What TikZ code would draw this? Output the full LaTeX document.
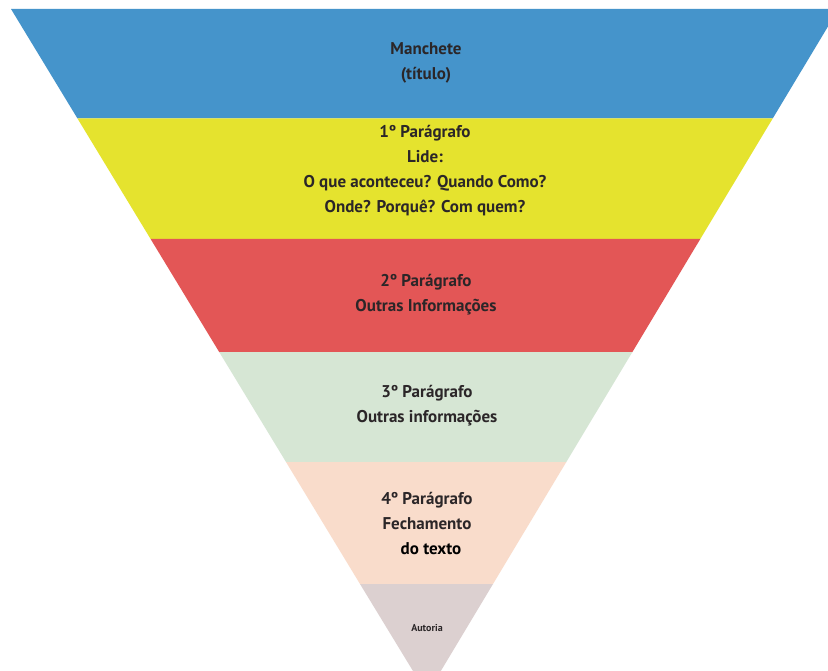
\documentclass[tikz,border=0pt]{standalone}
\usepackage{fontspec}
\setmainfont{PT Sans}
\definecolor{cblue}{HTML}{4594CB}
\definecolor{cyellow}{HTML}{E5E32E}
\definecolor{cred}{HTML}{E35656}
\definecolor{cgreen}{HTML}{D6E6D4}
\definecolor{cpeach}{HTML}{F9DCCB}
\definecolor{cgray}{HTML}{DCD0D0}
\definecolor{ctext}{HTML}{2B2628}
\begin{document}
\begin{tikzpicture}[x=1pt,y=-1pt,
  lbl/.style={text=ctext,font=\bfseries\fontsize{17}{25}\selectfont,align=center,inner sep=0pt},
  small/.style={text=ctext,font=\bfseries\fontsize{10}{12}\selectfont,inner sep=0pt}]
\useasboundingbox (0,0) rectangle (828,671);
\clip (0,0) rectangle (828,671);
\fill[white] (0,0) rectangle (828,671);
\fill[cblue]   (11,9) -- (838.5,9) -- (772.7,118.5) -- (77.5,118.5) -- cycle;
\fill[cyellow] (77.5,118.5) -- (772.7,118.5) -- (700.3,239) -- (150.6,239) -- cycle;
\fill[cred]    (150.6,239) -- (700.3,239) -- (632.4,352) -- (219.2,352) -- cycle;
\fill[cgreen]  (219.2,352) -- (632.4,352) -- (566.3,462) -- (286,462) -- cycle;
\fill[cpeach]  (286,462) -- (566.3,462) -- (493,584) -- (360,584) -- cycle;
\fill[cgray]   (360,584) -- (493,584) -- (427,694) -- cycle;
\node[lbl] (t1) at (426,63) {Manchete\\(título)};
\node[lbl] (t2) at (425,171) {1º Parágrafo\\Lide:\\O que aconteceu? Quando Como?\\Onde? Porquê? Com quem?};
\node[lbl] (t3) at (426,295) {2º Parágrafo\\Outras Informações};
\node[lbl] (t4) at (427,406) {3º Parágrafo\\Outras informações};
\node[lbl] (t5) at (427,523) {4º Parágrafo\\Fechamento\\\hspace*{8pt}\textcolor{black}{do texto}};
\node[small] (t6) at (427,628) {Autoria};
\end{tikzpicture}
\end{document}
